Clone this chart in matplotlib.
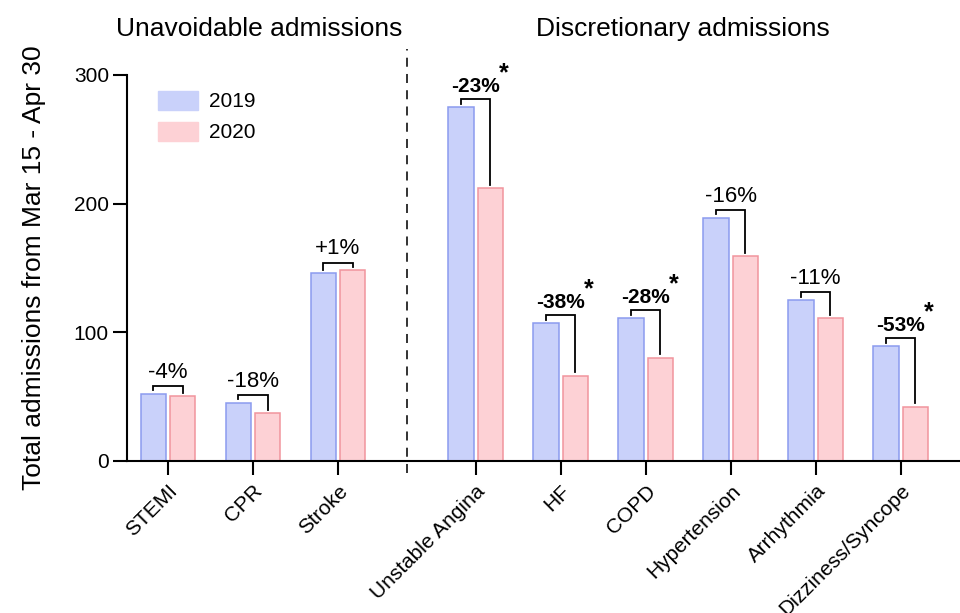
import matplotlib
matplotlib.use("Agg")
import matplotlib.pyplot as plt
from matplotlib.patches import Patch
import numpy as np

plt.rcParams['font.family'] = ['Liberation Sans', 'DejaVu Sans']

categories = ["STEMI", "CPR", "Stroke", "Unstable Angina", "HF", "COPD",
              "Hypertension", "Arrhythmia", "Dizziness/Syncope"]
vals_2019 = [52, 45, 146, 275, 107, 111, 189, 125, 89]
vals_2020 = [50, 37, 148, 212, 66, 80, 159, 111, 42]
pct_labels = ["-4%", "-18%", "+1%", "-23%", "-38%", "-28%", "-16%", "-11%", "-53%"]
significant = [False, False, False, True, True, True, False, False, True]
yticks = [0, 100, 200, 300]
group_titles = ["Unavoidable admissions", "Discretionary admissions"]
n_unavoidable = 3

blue_fill, blue_edge = "#c9d1fa", "#8b9bef"
pink_fill, pink_edge = "#fdd1d5", "#f1949d"

fig = plt.figure(figsize=(9.6, 6.13), dpi=100)
ax = fig.add_axes([127/960, 1 - 460.5/613, 1 - 127/960, (460.5 - 75)/613])

gap = 1.62
x = np.array([i if i < n_unavoidable else i + gap - 1 for i in range(len(categories))], dtype=float)
off = 0.172
w = 0.30
ax.bar(x - off, vals_2019, width=w, color=blue_fill, edgecolor=blue_edge, linewidth=1.1, zorder=2)
ax.bar(x + off, vals_2020, width=w, color=pink_fill, edgecolor=pink_edge, linewidth=1.1, zorder=2)

# brackets and labels
for xi, a, b, lab, sig in zip(x, vals_2019, vals_2020, pct_labels, significant):
    top = max(a, b) + 6
    ax.plot([xi - off, xi - off, xi + off, xi + off], [a + 2.5, top, top, b + 2.5],
            color="black", lw=1.3, zorder=3, solid_joinstyle='miter')
    if sig:
        t = ax.text(xi, top + 2.5, lab, ha="center", va="bottom", fontsize=15,
                    fontweight="bold")
        ax.annotate("*", xy=(0.97, 0.55), xycoords=t, ha="left", va="bottom",
                    fontsize=18, fontweight="bold")
    else:
        ax.text(xi, top + 2.5, lab, ha="center", va="bottom", fontsize=16)

ax.set_ylim(0, 300)
ax.set_xlim(-0.482, 9.318)
ax.set_yticks(yticks)
ax.set_xticks(x)
ax.set_xticklabels(categories, rotation=45, ha="right", rotation_mode="anchor", fontsize=15)
ax.tick_params(axis="both", direction="out", length=10, width=1.5, labelsize=15, pad=3)
ax.tick_params(axis="x", labelsize=15, pad=5)
for s in ["top", "right"]:
    ax.spines[s].set_visible(False)
for s in ["left", "bottom"]:
    ax.spines[s].set_linewidth(1.5)
ax.set_ylabel("Total admissions from Mar 15 - Apr 30", fontsize=19, labelpad=20)

# dashed separator
xd = (x[n_unavoidable - 1] + x[n_unavoidable]) / 2
ax.plot([xd, xd], [-10, 320], ls=(0, (5, 4)), color="#222222", lw=1.3, clip_on=False, zorder=1)

# group titles
ax.text(np.mean(x[:n_unavoidable]) + 0.07, 1.12, group_titles[0], transform=ax.get_xaxis_transform(),
        ha="center", va="center", fontsize=19)
ax.text(np.mean(x[n_unavoidable:]) - 0.06, 1.12, group_titles[1], transform=ax.get_xaxis_transform(),
        ha="center", va="center", fontsize=19)

handles = [Patch(facecolor=blue_fill, edgecolor=blue_fill, label="2019"),
           Patch(facecolor=pink_fill, edgecolor=pink_fill, label="2020")]
fig.legend(handles=handles, loc="upper left", bbox_to_anchor=(158/960, 1 - 91/613),
           frameon=False, fontsize=15, handlelength=1.9, handleheight=1.0,
           handletextpad=0.55, labelspacing=0.5, borderpad=0, borderaxespad=0)

fig.savefig("out.png", dpi=100)
